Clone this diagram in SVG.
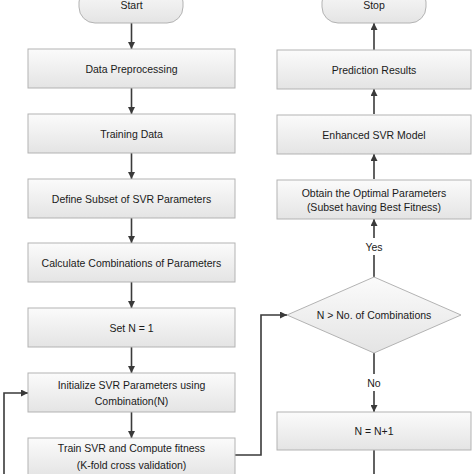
<svg xmlns="http://www.w3.org/2000/svg" width="474" height="474" viewBox="0 0 474 474">
<defs>
<linearGradient id="g" x1="0" y1="0" x2="0" y2="1">
<stop offset="0" stop-color="#fbfbfb"/>
<stop offset="1" stop-color="#e4e4e4"/>
</linearGradient>
<marker id="a" viewBox="0 0 10 10" refX="10" refY="5" markerWidth="7" markerHeight="7" markerUnits="userSpaceOnUse" orient="auto">
<path d="M0,0 L10,5 L0,10 Z" fill="#3a3a3a"/>
</marker>
</defs>
<style>
.b{fill:url(#g);stroke:#b3b3b3;stroke-width:1}
.t{font-family:"Liberation Sans",Arial,sans-serif;font-size:10.5px;fill:#1a1a1a;text-anchor:middle;dominant-baseline:central}
.c{fill:none;stroke:#3a3a3a;stroke-width:1.6;marker-end:url(#a)}
.l{fill:none;stroke:#3a3a3a;stroke-width:1.6}
</style>
<rect width="474" height="474" fill="#fff"/>
<g id="connectors">
<path class="c" d="M131.5,23 V49"/>
<path class="c" d="M131.5,88 V114"/>
<path class="c" d="M131.5,153 V179"/>
<path class="c" d="M131.5,218 V243"/>
<path class="c" d="M131.5,282 V308"/>
<path class="c" d="M131.5,347 V373"/>
<path class="c" d="M131.5,412 V438"/>
<path class="c" d="M235,455 H261 V315 H287"/>
<path class="c" d="M374,277 V219"/>
<path class="c" d="M374,179 V154"/>
<path class="c" d="M374,114 V89"/>
<path class="c" d="M374,51 V23"/>
<path class="c" d="M374,353 V412"/>
<path class="l" d="M374,450 V474"/>
<path class="c" d="M4,474 V393 H28"/>
<rect x="362" y="238" width="24" height="17" fill="#fff"/>
<text class="t" x="374" y="247">Yes</text>
<rect x="364" y="374" width="20" height="17" fill="#fff"/>
<text class="t" x="374" y="383">No</text>
</g>
<g id="start"><rect class="b" x="79" y="-14" width="104" height="37" rx="16"/><text class="t" x="131.5" y="5">Start</text></g>
<g id="preprocessing"><rect class="b" x="28" y="49" width="207" height="39"/><text class="t" x="131.5" y="69">Data Preprocessing</text></g>
<g id="training"><rect class="b" x="28" y="114" width="207" height="39"/><text class="t" x="131.5" y="134">Training Data</text></g>
<g id="subset"><rect class="b" x="28" y="179" width="207" height="39"/><text class="t" x="131.5" y="199">Define Subset of SVR Parameters</text></g>
<g id="combinations"><rect class="b" x="28" y="243" width="207" height="39"/><text class="t" x="131.5" y="263">Calculate Combinations of Parameters</text></g>
<g id="setn"><rect class="b" x="28" y="308" width="207" height="39"/><text class="t" x="131.5" y="328">Set N = 1</text></g>
<g id="init"><rect class="b" x="28" y="373" width="207" height="39"/><text class="t" x="131.5" y="385">Initialize SVR Parameters using</text><text class="t" x="131.5" y="401">Combination(N)</text></g>
<g id="train"><rect class="b" x="28" y="438" width="207" height="39"/><text class="t" x="131.5" y="448">Train SVR and Compute fitness</text><text class="t" x="131.5" y="465">(K-fold cross validation)</text></g>
<g id="stop"><rect class="b" x="322" y="-14" width="104" height="37" rx="16"/><text class="t" x="374" y="5">Stop</text></g>
<g id="prediction"><rect class="b" x="277" y="50" width="194" height="39"/><text class="t" x="374" y="70">Prediction Results</text></g>
<g id="enhanced"><rect class="b" x="277" y="115" width="194" height="39"/><text class="t" x="374" y="135">Enhanced SVR Model</text></g>
<g id="optimal"><rect class="b" x="277" y="180" width="194" height="39"/><text class="t" x="374" y="193">Obtain the Optimal Parameters</text><text class="t" x="374" y="207">(Subset having Best Fitness)</text></g>
<g id="decision"><path class="b" d="M374,277 L461,315 L374,353 L287,315 Z"/><text class="t" x="374" y="315">N &gt; No. of Combinations</text></g>
<g id="increment"><rect class="b" x="277" y="412" width="194" height="38"/><text class="t" x="374" y="431">N = N+1</text></g>
</svg>
